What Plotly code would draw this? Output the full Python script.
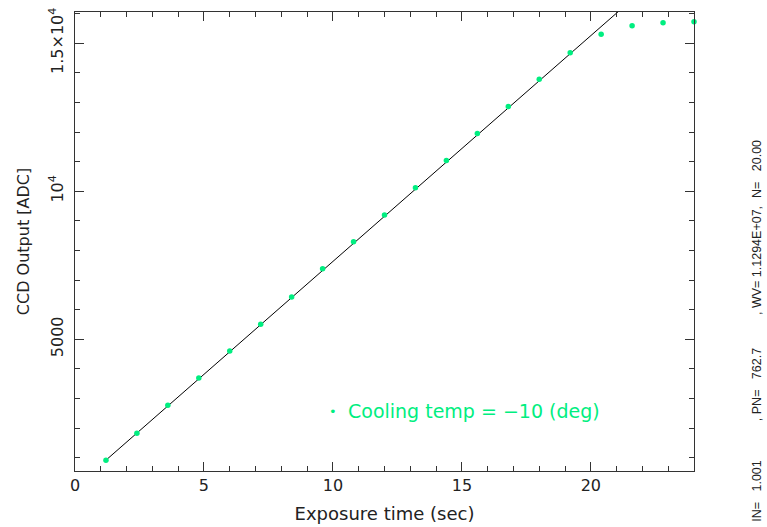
import plotly.graph_objects as go

# Data
exposure_time = [1.2, 2.4, 3.6, 4.8, 6.0, 7.2, 8.4, 9.6, 10.8, 12.0,
                 13.2, 14.4, 15.6, 16.8, 18.0, 19.2, 20.4, 21.6, 22.8, 24.0]
ccd_output = [915, 1825, 2770, 3690, 4600, 5510, 6430, 7380, 8290, 9200,
              10120, 11040, 11950, 12860, 13780, 14680, 15300, 15590, 15690, 15725]
fit_x = [1.2, 24.0]
fit_y = [916, 18306]
y_tickvals = [5000, 10000, 15000]
y_ticktext = ["5000", "10<sup>4</sup>", "1.5×10<sup>4</sup>"]
x_tickvals = [0, 5, 10, 15, 20]
legend_text = "Cooling temp = −10 (deg)"
NB = "\u00a0"
side_texts = ["IN=" + NB * 3 + "1.001",
              "," + NB + "PN=" + NB * 3 + "762.7",
              "," + NB + "WV=" + NB + "1.1294E+07,",
              "N=" + NB * 3 + "20.00"]
side_pos = [-0.043, 0.187, 0.4575, 0.658]

GREEN = "#00EE80"
AXC = "#333333"
FONT = "DejaVu Sans"

fig = go.Figure()
fig.add_trace(go.Scatter(x=fit_x, y=fit_y, mode="lines",
                         line=dict(color="black", width=1), showlegend=False))
fig.add_trace(go.Scatter(x=exposure_time, y=ccd_output, mode="markers",
                         marker=dict(color=GREEN, size=5.5), showlegend=False,
                         cliponaxis=False))

fig.update_layout(
    width=767, height=527,
    margin=dict(l=75, r=73, t=12, b=56),
    paper_bgcolor="white", plot_bgcolor="white",
    font=dict(family=FONT, size=16, color="#222222"),
    xaxis=dict(range=[0, 24], showgrid=False, zeroline=False, automargin=False,
               showline=True, linecolor=AXC, linewidth=1, mirror="allticks",
               ticks="inside", ticklen=9, tickcolor=AXC, tickwidth=1,
               tickvals=x_tickvals,
               minor=dict(dtick=1, ticks="inside", ticklen=5, tickcolor=AXC, tickwidth=1),
               title=dict(text="Exposure time (sec)", standoff=13,
                          font=dict(size=18))),
    yaxis=dict(range=[550, 16053], showgrid=False, zeroline=False, automargin=False,
               showline=True, linecolor=AXC, linewidth=1, mirror="allticks",
               ticks="inside", ticklen=9, tickcolor=AXC, tickwidth=1,
               tickvals=y_tickvals, ticktext=y_ticktext, tickangle=-90,
               ticklabelstandoff=5,
               minor=dict(dtick=1000, tick0=0, ticks="inside", ticklen=5, tickcolor=AXC, tickwidth=1),
               title=dict(text="CCD Output [ADC]", standoff=12,
                          font=dict(size=16))),
)
fig.add_annotation(xref="paper", yref="paper", x=0.4168, y=0.1307,
                   xanchor="center", yanchor="middle", text="•", showarrow=False,
                   font=dict(color=GREEN, size=13, family=FONT))
fig.add_annotation(xref="paper", yref="paper", x=0.4378, y=0.1307,
                   xanchor="left", yanchor="middle", text=legend_text, showarrow=False,
                   font=dict(color=GREEN, size=19, family=FONT))
for t, p in zip(side_texts, side_pos):
    fig.add_annotation(xref="paper", yref="paper", x=1.1018, y=p,
                       xanchor="center", yanchor="middle", textangle=-90,
                       text=t, showarrow=False,
                       font=dict(size=12.5, color="#222222", family="Liberation Sans"))

fig.write_html("out.html")
